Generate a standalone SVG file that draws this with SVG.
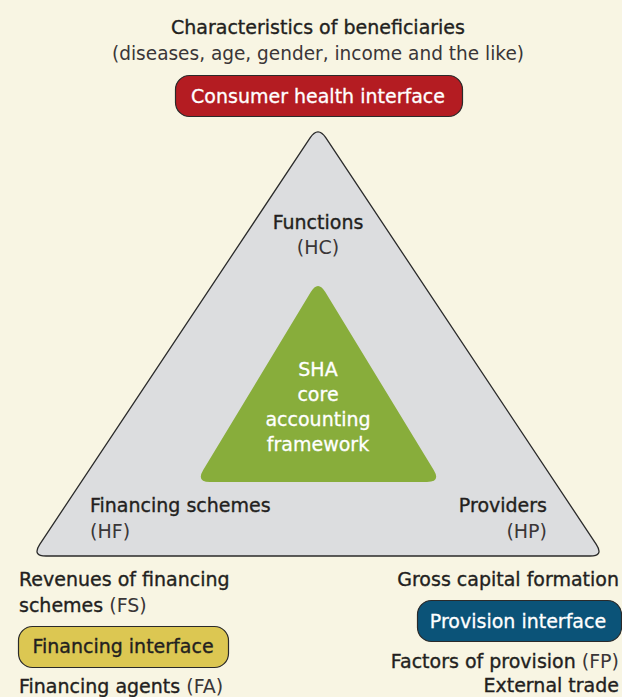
<svg xmlns="http://www.w3.org/2000/svg" width="622" height="697" viewBox="0 0 622 697">
<style>
.t{font-family:"DejaVu Sans","Liberation Sans",sans-serif;font-size:19px;fill:#231f20;stroke:#231f20;stroke-width:0.35}
.l{fill:#3a3637;stroke:none}
.w{fill:#ffffff;stroke:#ffffff;stroke-width:0.3}
.c{text-anchor:middle}
.r{text-anchor:end}
.pill{stroke:#2a2a2a;stroke-width:1.2}
</style>
<rect width="622" height="697" fill="#f8f5e3"/>
<g id="outer-triangle">
<path d="M310.25,137.66 Q318,126 325.75,137.66 L596.25,544.3 Q604,556 590,556 L46,556 Q32,556 39.75,544.3 Z" fill="#dcdddf" stroke="#2a2a2a" stroke-width="1.3"/>
</g>
<g id="core">
<path d="M310.8,292 Q318,280 325.3,292 L433.7,470 Q441,482 427,482 L210,482 Q196,482 203.2,470 Z" fill="#88ad3b"/>
<text class="t w c" x="318" y="376">SHA</text>
<text class="t w c" x="318" y="401">core</text>
<text class="t w c" x="318" y="426">accounting</text>
<text class="t w c" x="318" y="451">framework</text>
</g>
<g id="functions">
<text class="t c" x="318" y="229">Functions</text>
<text class="t c l" x="318" y="254">(HC)</text>
</g>
<g id="financing-schemes">
<text class="t" x="90" y="512">Financing schemes</text>
<text class="t l" x="90" y="538">(HF)</text>
</g>
<g id="providers">
<text class="t r" x="547" y="512">Providers</text>
<text class="t r l" x="547" y="538">(HP)</text>
</g>
<g id="consumer">
<text class="t c" x="318" y="34">Characteristics of beneficiaries</text>
<text class="t c l" x="318" y="60" textLength="412" lengthAdjust="spacingAndGlyphs">(diseases, age, gender, income and the like)</text>
<rect class="pill" x="175.5" y="75.5" width="287" height="41" rx="14" fill="#b41c22"/>
<text class="t w c" x="318" y="103">Consumer health interface</text>
</g>
<g id="financing">
<text class="t" x="19" y="586">Revenues of financing</text>
<text class="t" x="19" y="612">schemes <tspan class="l">(FS)</tspan></text>
<rect class="pill" x="18.5" y="626.5" width="210" height="41" rx="14" fill="#dcc752"/>
<text class="t c" x="123" y="653">Financing interface</text>
<text class="t" x="19" y="693">Financing agents <tspan class="l">(FA)</tspan></text>
</g>
<g id="provision">
<text class="t r" x="619" y="586">Gross capital formation</text>
<rect class="pill" x="417.5" y="600.5" width="204" height="41" rx="14" fill="#0b5378"/>
<text class="t w c" x="518" y="628">Provision interface</text>
<text class="t r" x="619" y="668">Factors of provision <tspan class="l">(FP)</tspan></text>
<text class="t r" x="619" y="692">External trade</text>
</g>
<g id="connectors"></g>
</svg>
